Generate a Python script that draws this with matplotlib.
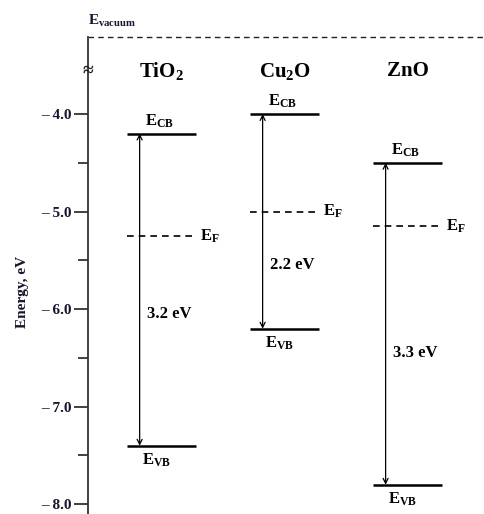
import matplotlib
matplotlib.use('Agg')
from matplotlib import pyplot as plt

# band positions (eV)
materials = ['TiO$_2$', 'Cu$_2$O', 'ZnO']
e_cb = [-4.2, -4.0, -4.5]
e_vb = [-7.4, -6.2, -7.8]
e_f = [-5.25, -5.0, -5.15]
gaps = ['3.2 eV', '2.2 eV', '3.3 eV']
gap_label_y = [-6.05, -5.55, -6.45]

major_ticks = [-4.0, -5.0, -6.0, -7.0, -8.0]
minor_ticks = [-4.5, -5.5, -6.5, -7.5]
tick_labels = ['\u2013 4.0', '\u2013 5.0', '\u2013 6.0', '\u2013 7.0', '\u2013 8.0']

plt.rcParams['font.family'] = 'Liberation Serif'
plt.rcParams['font.weight'] = 'bold'
plt.rcParams['mathtext.fontset'] = 'custom'
plt.rcParams['mathtext.rm'] = 'Liberation Serif:bold'
plt.rcParams['mathtext.it'] = 'Liberation Serif:bold'
plt.rcParams['mathtext.bf'] = 'Liberation Serif:bold'

txt = '#15152e'
fig = plt.figure(figsize=(4.84, 5.14), dpi=100)
ax = fig.add_axes([88 / 484, 0, 1 - 88 / 484, (514 - 37) / 514])
ax.set_xlim(0.4, 3.62)
ax.set_ylim(-8.10, -3.21)

for s in ['top', 'right', 'bottom']:
    ax.spines[s].set_visible(False)
ax.spines['left'].set_color('#333333')
ax.spines['left'].set_linewidth(1.3)
ax.set_xticks([])
ax.set_yticks(major_ticks)
ax.set_yticklabels(tick_labels, color=txt, fontsize=11, fontweight='bold')
ax.set_yticks(minor_ticks, minor=True)
ax.tick_params(axis='y', which='major', length=10, width=1.3, color='#333333', pad=2)
ax.tick_params(axis='y', which='minor', length=7, width=1.3, color='#333333')
ax.set_ylabel('Energy, eV', color=txt, fontsize=11, fontweight='bold')
ax.yaxis.set_label_coords(-0.15, 0.465)

# vacuum level
ax.axhline(-3.21, color='#222222', lw=1.0, ls=(0, (4, 3)), clip_on=False)
ax.text(0.4, -3.13, 'E$_{\\mathrm{vacuum}}$', fontsize=11, ha='left', va='bottom',
        color=txt, fontweight='bold')
# axis break mark
ax.text(0.4, -3.56, '\u2248', fontsize=14, ha='center', va='center', color='#222222',
        fontweight='bold', clip_on=False)

hw = 0.28
for i, name in enumerate(materials):
    x = i + 1
    ax.text(x, -3.56, name, fontsize=15, ha='center', va='center', color='black')
    ax.hlines(e_cb[i], x - hw, x + hw, color='black', lw=1.8)
    ax.hlines(e_vb[i], x - hw, x + hw, color='black', lw=1.8)
    ax.hlines(e_f[i], x - hw, x + hw - 0.03, color='black', lw=1.2, ls=(0, (4, 3)))
    ax.annotate('', xy=(x - 0.18, e_cb[i]), xytext=(x - 0.18, e_vb[i]),
                arrowprops=dict(arrowstyle='<->', color='black', lw=0.9,
                                shrinkA=0, shrinkB=0, mutation_scale=9))
    ax.text(x - 0.02, e_cb[i] + 0.04, 'E$_{\\mathrm{CB}}$', fontsize=12,
            ha='center', va='bottom', color='black')
    ax.text(x - 0.04, e_vb[i] - 0.06, 'E$_{\\mathrm{VB}}$', fontsize=12,
            ha='center', va='top', color='black')
    ax.text(x + hw + 0.03, e_f[i], 'E$_{\\mathrm{F}}$', fontsize=12,
            ha='left', va='center', color='black')
    ax.text(x + 0.06, gap_label_y[i], gaps[i], fontsize=12, ha='center',
            va='center', color='black')

fig.savefig('out.png', dpi=100)
